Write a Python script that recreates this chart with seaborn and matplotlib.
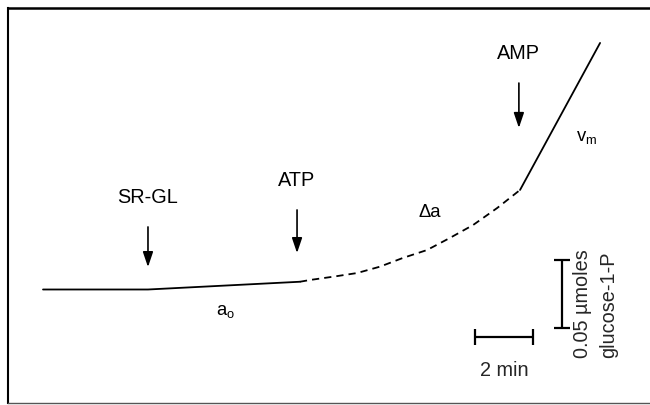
import matplotlib
matplotlib.use("Agg")
import matplotlib.pyplot as plt
import seaborn as sns
import pandas as pd

# Phosphorylase assay trace: glucose-1-P formed (umol) against time (min)
basal_min = [0.0, 3.62, 8.86]
basal_umol = [0.0, 0.0, 0.0057]

lag_min = [8.86, 9.21, 10.0, 10.83, 11.62, 12.41, 13.24, 14.03, 14.83, 15.66, 16.45]
lag_umol = [0.0057, 0.0070, 0.0094, 0.0121, 0.0168, 0.0232, 0.0290, 0.0379, 0.0474, 0.0599, 0.0732]

vmax_min = [16.45, 19.21]
vmax_umol = [0.0732, 0.1813]

# Additions to the cuvette: name, time, arrow tail / tip and label height (umol)
additions = ["SR-GL", "ATP", "AMP"]
addition_min = [3.62, 8.76, 16.41]
arrow_tail = [0.0460, 0.0585, 0.1518]
arrow_tip = [0.0165, 0.0268, 0.1188]
label_umol = [0.0673, 0.0805, 0.1739]

# Rate labels
rate_labels = [r"$\mathregular{a_o}$", "\u0394a", r"$\mathregular{v_m}$"]
rate_min = [6.28, 13.34, 18.76]
rate_umol = [-0.0165, 0.0563, 0.1121]

# Scale bars
time_bar_min = 2.0
amount_bar_umol = 0.05

sns.set_theme(style="white")
plt.rcParams["font.family"] = ["Liberation Sans", "DejaVu Sans"]
plt.rcParams["mathtext.default"] = "regular"

fig = plt.figure(figsize=(6.5, 4.05), dpi=100)
ax = fig.add_axes([8 / 650, 2 / 405, 652 / 650, 395 / 405])

trace_lw = 1.3
sns.lineplot(data=pd.DataFrame({"t": basal_min, "g": basal_umol}), x="t", y="g",
             ax=ax, color="black", lw=trace_lw)
sns.lineplot(data=pd.DataFrame({"t": lag_min, "g": lag_umol}), x="t", y="g",
             ax=ax, color="black", lw=trace_lw)
ax.lines[-1].set_dashes((4.0, 2.8))
sns.lineplot(data=pd.DataFrame({"t": vmax_min, "g": vmax_umol}), x="t", y="g",
             ax=ax, color="black", lw=trace_lw)

fs = 14.3
for name, t, tail, tip, ly in zip(additions, addition_min, arrow_tail, arrow_tip, label_umol):
    ax.annotate("", xy=(t, tip), xytext=(t, tail),
                arrowprops=dict(arrowstyle="-|>,head_length=0.65,head_width=0.22",
                                mutation_scale=14, color="black", lw=1.2,
                                shrinkA=0, shrinkB=0))
    ax.text(t, ly, name, ha="center", va="center", fontsize=fs, color="black")

for lab, t, y in zip(rate_labels, rate_min, rate_umol):
    ax.text(t, y, lab, ha="center", va="center", fontsize=fs - 1, color="black")

# Time scale bar
tb_x = 15.9
tb_y = -0.0349
ax.errorbar([tb_x], [tb_y], xerr=[time_bar_min / 2], fmt="none", ecolor="black",
            elinewidth=1.6, capsize=5.5, capthick=1.6)
ax.text(tb_x, -0.0592, "2 min", ha="center", va="center", fontsize=fs)

# Amount scale bar
ab_x = 17.9
ab_y = -0.0033
ax.errorbar([ab_x], [ab_y], yerr=[amount_bar_umol / 2], fmt="none", ecolor="black",
            elinewidth=1.6, capsize=5.5, capthick=1.6)
ax.text(18.62, -0.0504, "0.05 \u00b5moles", rotation=90, rotation_mode="anchor",
        ha="left", va="center", fontsize=fs)
ax.text(19.50, -0.0504, "glucose-1-P", rotation=90, rotation_mode="anchor",
        ha="left", va="center", fontsize=fs)

ax.set_xlim(-1.207, 21.276)
ax.set_ylim(-0.08346, 0.20699)
ax.set_xticks([])
ax.set_yticks([])
ax.set_xlabel("")
ax.set_ylabel("")
ax.spines["right"].set_visible(False)
ax.spines["top"].set_linewidth(1.8)
ax.spines["top"].set_color("black")
ax.spines["left"].set_linewidth(1.5)
ax.spines["left"].set_color("black")
ax.spines["bottom"].set_linewidth(1.0)
ax.spines["bottom"].set_color("#555555")

fig.savefig("out.png", dpi=100)
